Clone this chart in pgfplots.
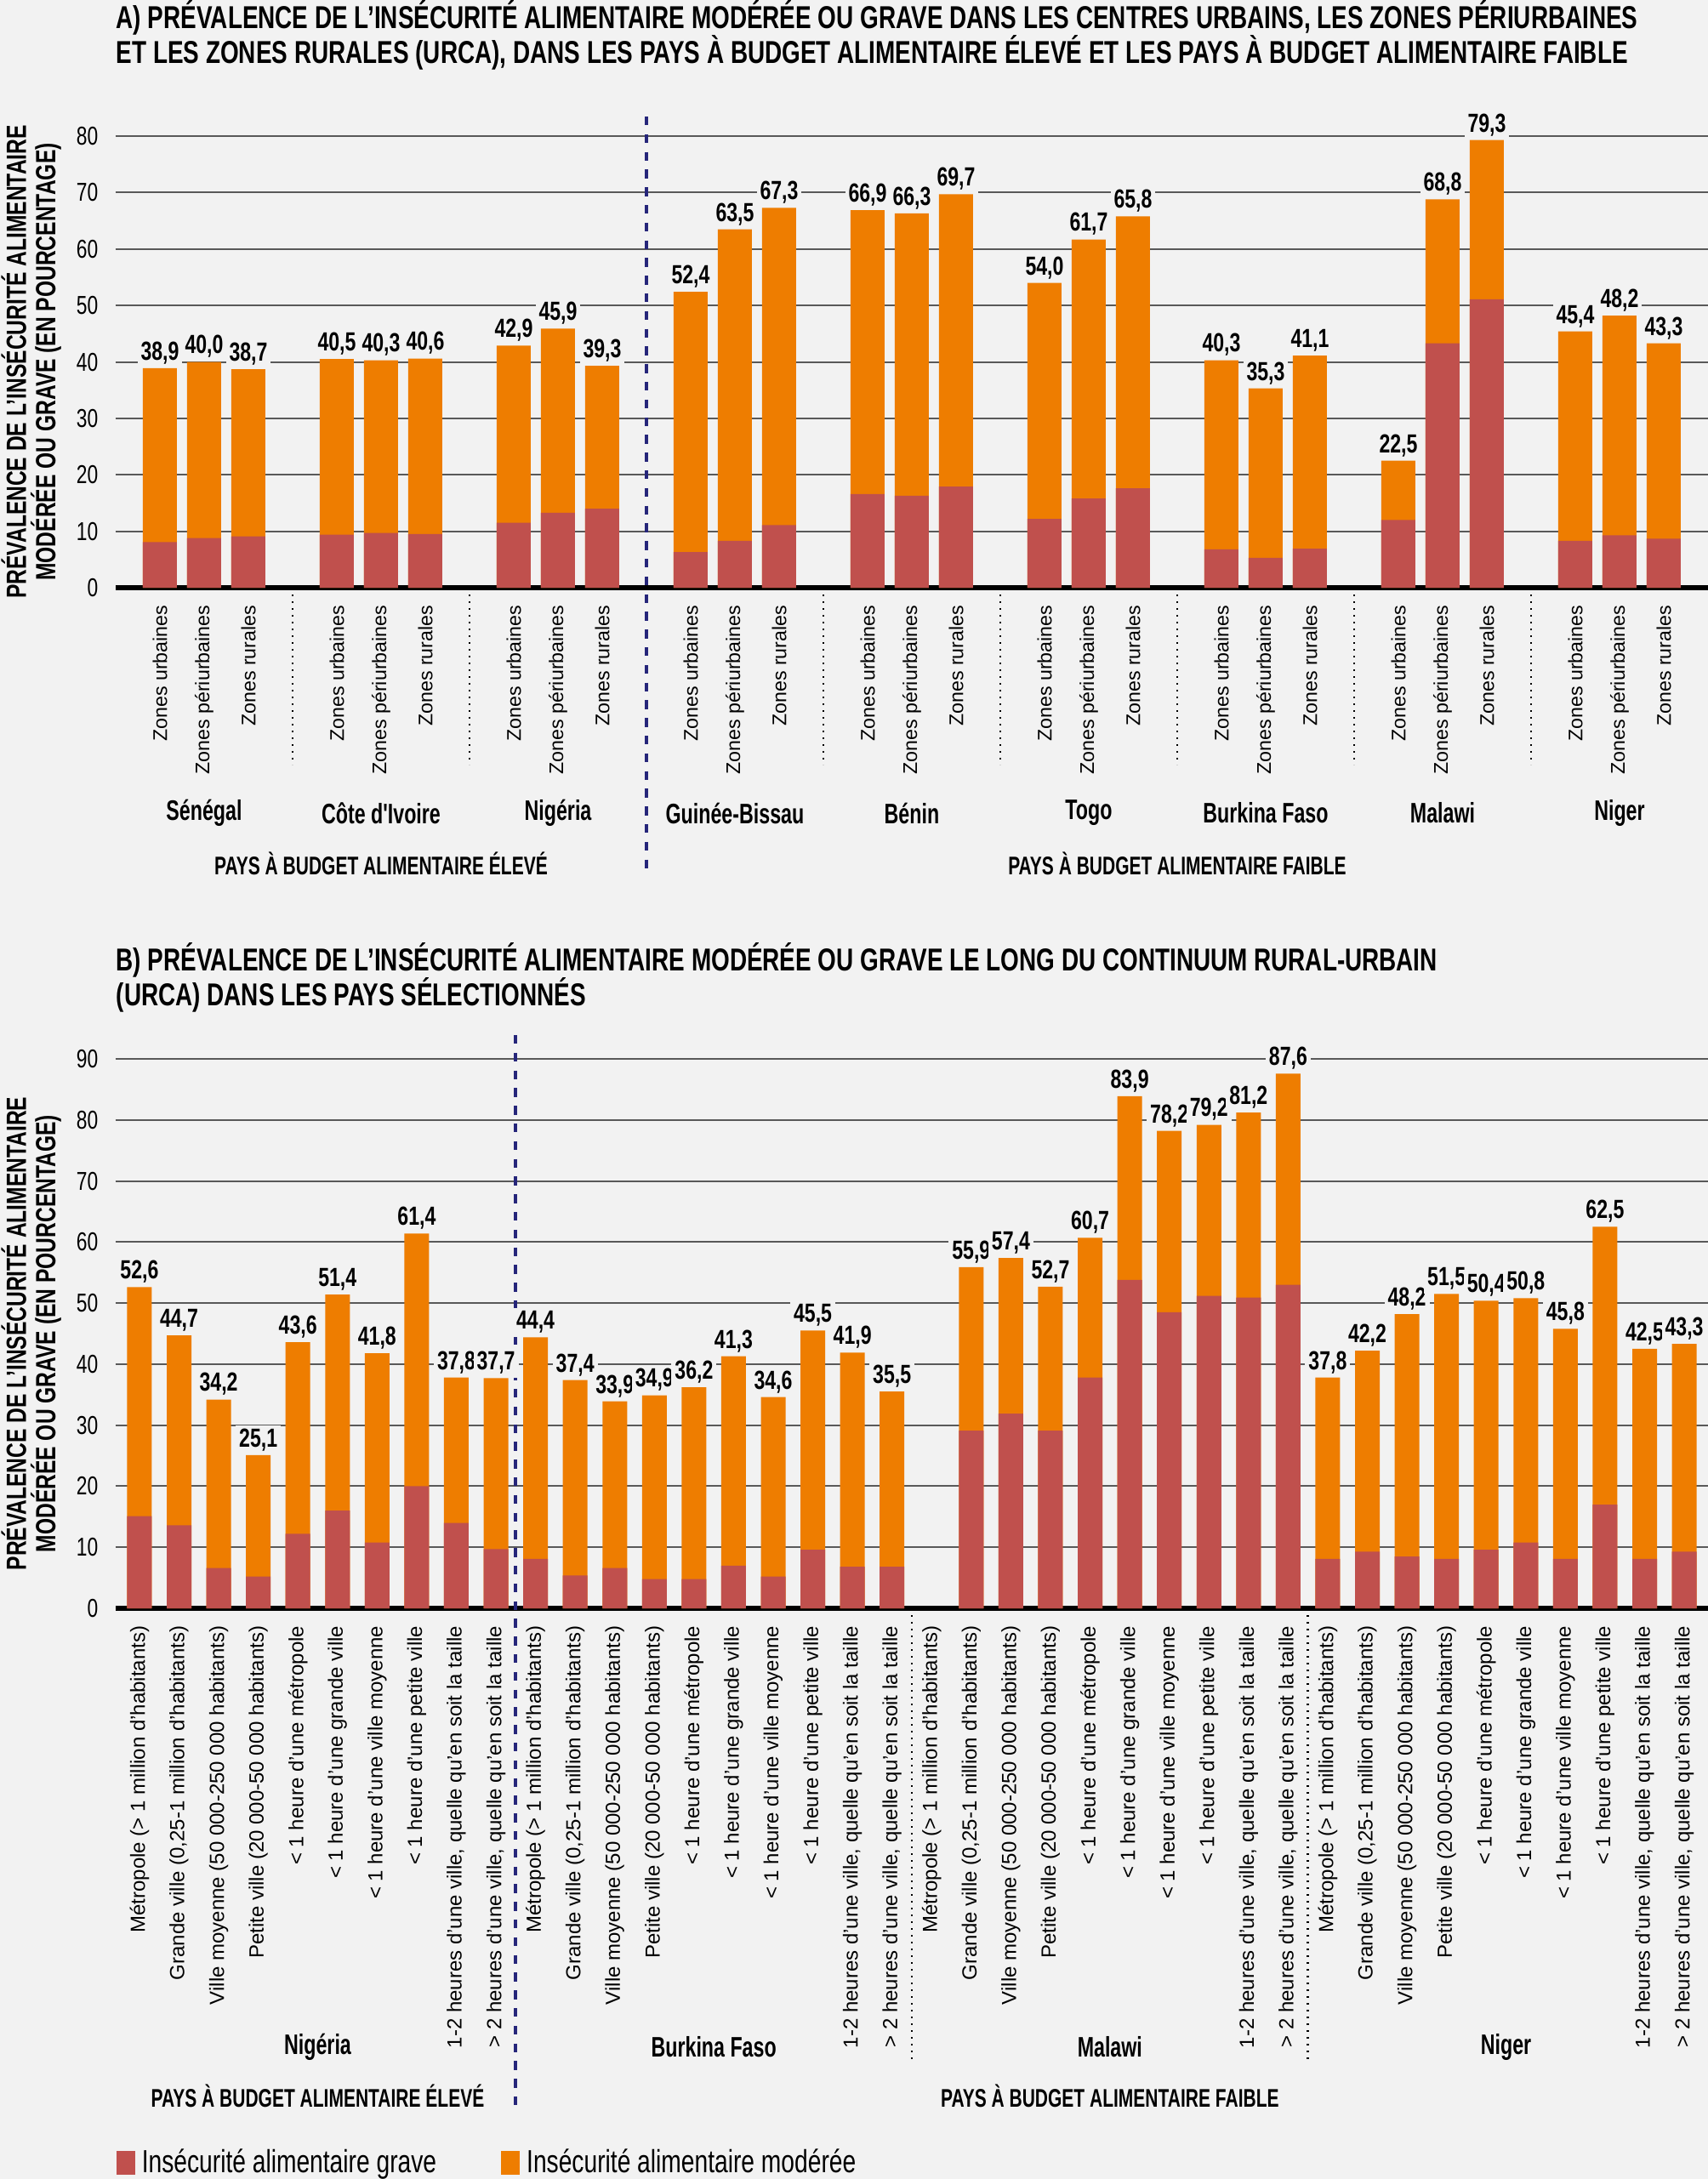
\documentclass[border=0pt]{standalone}
\usepackage{fontspec}
\setmainfont{Liberation Sans}
\newfontfamily\condfont{Liberation Sans}[FakeStretch=0.75]
\newfontfamily\narrowfont{Liberation Sans}[FakeStretch=0.7]
\usepackage{pgfplots}
\usepackage{pgfplotstable}
\pgfplotsset{compat=1.18}
\definecolor{bg}{HTML}{F2F2F2}
\definecolor{orangec}{HTML}{EE7D00}
\definecolor{redc}{HTML}{C0504D}
\definecolor{navy}{HTML}{26267A}
\newcommand\fTitle{\condfont\bfseries\fontsize{9.3}{10.2}\selectfont}
\newcommand\fYlab{\condfont\bfseries\fontsize{8.2}{8.6}\selectfont}
\newcommand\fTick{\condfont\fontsize{7.6}{8}\selectfont}
\newcommand\fVal{\condfont\bfseries\fontsize{7.7}{8}\selectfont}
\newcommand\fCatA{\fontsize{5.8}{6}\selectfont}
\newcommand\fCatB{\fontsize{6.0}{6.2}\selectfont}
\newcommand\fCountry{\narrowfont\bfseries\fontsize{8.3}{9}\selectfont}
\newcommand\fGroup{\narrowfont\bfseries\fontsize{7.5}{9}\selectfont}
\newcommand\fLeg{\condfont\fontsize{9.4}{10}\selectfont}

\pgfplotstableread{
x total grave
0 38.9 8.1
1 40.0 8.8
2 38.7 9.1
4 40.5 9.4
5 40.3 9.7
6 40.6 9.5
8 42.9 11.5
9 45.9 13.3
10 39.3 14.0
12 52.4 6.3
13 63.5 8.3
14 67.3 11.1
16 66.9 16.6
17 66.3 16.3
18 69.7 17.9
20 54.0 12.2
21 61.7 15.8
22 65.8 17.6
24 40.3 6.8
25 35.3 5.3
26 41.1 6.9
28 22.5 12.0
29 68.8 43.3
30 79.3 51.1
32 45.4 8.3
33 48.2 9.3
34 43.3 8.7
}\dataA

\pgfplotstableread{
x total grave
0 52.6 15.1
1 44.7 13.6
2 34.2 6.6
3 25.1 5.2
4 43.6 12.2
5 51.4 16.0
6 41.8 10.8
7 61.4 20.0
8 37.8 14.0
9 37.7 9.7
10 44.4 8.1
11 37.4 5.4
12 33.9 6.6
13 34.9 4.8
14 36.2 4.8
15 41.3 7.0
16 34.6 5.2
17 45.5 9.6
18 41.9 6.8
19 35.5 6.8
21 55.9 29.1
22 57.4 31.9
23 52.7 29.1
24 60.7 37.8
25 83.9 53.8
26 78.2 48.5
27 79.2 51.2
28 81.2 50.9
29 87.6 53.0
30 37.8 8.1
31 42.2 9.3
32 48.2 8.5
33 51.5 8.1
34 50.4 9.6
35 50.8 10.8
36 45.8 8.1
37 62.5 17.0
38 42.5 8.1
39 43.3 9.3
}\dataB

\def\zu{Zones urbaines}
\def\zp{Zones périurbaines}
\def\zr{Zones rurales}
\def\lbA{Métropole (> 1 million d’habitants)}
\def\lbB{Grande ville (0,25-1 million d’habitants)}
\def\lbC{Ville moyenne (50~000-250~000 habitants)}
\def\lbD{Petite ville (20~000-50~000 habitants)}
\def\lbE{< 1 heure d’une métropole}
\def\lbF{< 1 heure d’une grande ville}
\def\lbG{< 1 heure d’une ville moyenne}
\def\lbH{< 1 heure d’une petite ville}
\def\lbI{1-2 heures d’une ville, quelle qu’en soit la taille}
\def\lbJ{> 2 heures d’une ville, quelle qu’en soit la taille}

\pgfplotsset{common/.style={
  scale only axis, width=468pt,
  axis x line*=bottom, axis y line*=left,
  y axis line style={draw=none},
  x axis line style={line width=1.3pt, black},
  major tick length=0pt,
  ymajorgrids, grid style={line width=0.5pt, black!65},
  clip=false,
  /pgf/number format/assume math mode=true,
  yticklabel style={font=\fTick, anchor=east, inner xsep=5pt, inner ysep=0pt},
  xticklabel style={rotate=90, anchor=east, inner xsep=5pt, inner ysep=0pt},
  ylabel style={font=\fYlab, align=center, at={(axis description cs:-0.053,0.5)}, anchor=center},
  title style={font=\fTitle, align=left, anchor=south west, inner sep=0pt},
}}
\pgfplotsset{valnodes/.style={nodes near coords={\pgfmathprintnumber[fixed,fixed zerofill,precision=1,use comma,assume math mode=true]{\pgfplotspointmeta}},
  nodes near coords style={font=\fVal, fill=bg, inner sep=1pt, text=black}}}

\begin{document}
\begin{tikzpicture}
\useasboundingbox (0pt,0pt) rectangle (502pt,-640.5pt);
\fill[bg] (0pt,0pt) rectangle (502pt,-640.5pt);

% Panel A
\begin{axis}[common, at={(34pt,-172.75pt)}, anchor=south west, height=132.75pt,
  xmin=-1, xmax=35, ymin=0, ymax=80, ytick={0,10,...,80},
  xtick={0,1,2,4,5,6,8,9,10,12,13,14,16,17,18,20,21,22,24,25,26,28,29,30,32,33,34},
  xticklabels={\zu,\zp,\zr,\zu,\zp,\zr,\zu,\zp,\zr,\zu,\zp,\zr,\zu,\zp,\zr,\zu,\zp,\zr,\zu,\zp,\zr,\zu,\zp,\zr,\zu,\zp,\zr},
  xticklabel style={font=\fCatA},
  ylabel={PRÉVALENCE DE L’INSÉCURITÉ ALIMENTAIRE\\MODÉRÉE OU GRAVE (EN POURCENTAGE)},
  title={A) PRÉVALENCE DE L’INSÉCURITÉ ALIMENTAIRE MODÉRÉE OU GRAVE DANS LES CENTRES URBAINS, LES ZONES PÉRIURBAINES\\ET LES ZONES RURALES (URCA), DANS LES PAYS À BUDGET ALIMENTAIRE ÉLEVÉ ET LES PAYS À BUDGET ALIMENTAIRE FAIBLE},
  title style={at={(axis description cs:0,1)}, yshift=13.3pt},
]
\addplot[ybar, bar width=10pt, bar shift=0pt, fill=orangec, draw=none, valnodes] table[x=x, y=total]{\dataA};
\addplot[ybar, bar width=10pt, bar shift=0pt, fill=redc, draw=none] table[x=x, y=grave]{\dataA};
\pgfplotsinvokeforeach{3,7,15,19,23,27,31}{
  \draw[line width=0.6pt, dash pattern=on 0.6pt off 1.4pt] ([yshift=-2pt]axis cs:#1,0) -- ([yshift=-52pt]axis cs:#1,0);
}
\draw[navy, line width=1pt, dash pattern=on 2.6pt off 2.6pt] ([yshift=5.75pt]axis cs:11,80) -- ([yshift=-83.75pt]axis cs:11,0);
\node[font=\fCountry] at ([yshift=-66.25pt]axis cs:1,0) {Sénégal};
\node[font=\fCountry] at ([yshift=-66.25pt]axis cs:5,0) {Côte d'Ivoire};
\node[font=\fCountry] at ([yshift=-66.25pt]axis cs:9,0) {Nigéria};
\node[font=\fCountry] at ([yshift=-66.25pt]axis cs:13,0) {Guinée-Bissau};
\node[font=\fCountry] at ([yshift=-66.25pt]axis cs:17,0) {Bénin};
\node[font=\fCountry] at ([yshift=-66.25pt]axis cs:21,0) {Togo};
\node[font=\fCountry] at ([yshift=-66.25pt]axis cs:25,0) {Burkina Faso};
\node[font=\fCountry] at ([yshift=-66.25pt]axis cs:29,0) {Malawi};
\node[font=\fCountry] at ([yshift=-66.25pt]axis cs:33,0) {Niger};
\node[font=\fGroup] at ([yshift=-81pt]axis cs:5,0) {PAYS À BUDGET ALIMENTAIRE ÉLEVÉ};
\node[font=\fGroup] at ([yshift=-81pt]axis cs:23,0) {PAYS À BUDGET ALIMENTAIRE FAIBLE};
\end{axis}

% Panel B
\begin{axis}[common, at={(34pt,-472.75pt)}, anchor=south west, height=161.5pt,
  xmin=-0.6, xmax=39.6, ymin=0, ymax=90, ytick={0,10,...,90},
  xtick={0,...,39},
  xticklabels={{\lbA},{\lbB},{\lbC},{\lbD},{\lbE},{\lbF},{\lbG},{\lbH},{\lbI},{\lbJ},
               {\lbA},{\lbB},{\lbC},{\lbD},{\lbE},{\lbF},{\lbG},{\lbH},{\lbI},{\lbJ},
               {\lbA},{\lbB},{\lbC},{\lbD},{\lbE},{\lbF},{\lbG},{\lbH},{\lbI},{\lbJ},
               {\lbA},{\lbB},{\lbC},{\lbD},{\lbE},{\lbF},{\lbG},{\lbH},{\lbI},{\lbJ}},
  xticklabel style={font=\fCatB},
  ylabel={PRÉVALENCE DE L’INSÉCURITÉ ALIMENTAIRE\\MODÉRÉE OU GRAVE (EN POURCENTAGE)},
  title={B) PRÉVALENCE DE L’INSÉCURITÉ ALIMENTAIRE MODÉRÉE OU GRAVE LE LONG DU CONTINUUM RURAL-URBAIN\\(URCA) DANS LES PAYS SÉLECTIONNÉS},
  title style={at={(axis description cs:0,1)}, yshift=7.6pt},
  legend style={at={(axis description cs:0,0)}, anchor=south west, yshift=-169.5pt, draw=none, fill=none,
     font=\fLeg, legend columns=2, inner sep=0pt,
     /tikz/every even column/.append style={column sep=17pt}},
  legend image code/.code={\fill[#1, draw=none] (0pt,-3.5pt) rectangle (5.5pt,3.5pt);},
]
\addplot[ybar, bar width=7.25pt, bar shift=0pt, fill=orangec, draw=none, valnodes, forget plot] table[x=x, y=total]{\dataB};
\addplot[ybar, bar width=7.25pt, bar shift=0pt, fill=redc, draw=none, forget plot] table[x=x, y=grave]{\dataB};
\addlegendimage{fill=redc}
\addlegendentry{Insécurité alimentaire grave}
\addlegendimage{fill=orangec}
\addlegendentry{Insécurité alimentaire modérée}
\pgfplotsinvokeforeach{19.5,29.5}{
  \draw[line width=0.6pt, dash pattern=on 0.6pt off 1.4pt] ([yshift=-2pt]axis cs:#1,0) -- ([yshift=-132.5pt]axis cs:#1,0);
}
\draw[navy, line width=1pt, dash pattern=on 2.6pt off 2.6pt] ([yshift=7pt]axis cs:9.5,90) -- ([yshift=-147.75pt]axis cs:9.5,0);
\node[font=\fCountry] at ([yshift=-129pt]axis cs:4.5,0) {Nigéria};
\node[font=\fCountry] at ([yshift=-129pt]axis cs:14.5,0) {Burkina Faso};
\node[font=\fCountry] at ([yshift=-129pt]axis cs:24.5,0) {Malawi};
\node[font=\fCountry] at ([yshift=-129pt]axis cs:34.5,0) {Niger};
\node[font=\fGroup] at ([yshift=-143.25pt]axis cs:4.5,0) {PAYS À BUDGET ALIMENTAIRE ÉLEVÉ};
\node[font=\fGroup] at ([yshift=-143.25pt]axis cs:24.5,0) {PAYS À BUDGET ALIMENTAIRE FAIBLE};
\end{axis}
\end{tikzpicture}
\end{document}
